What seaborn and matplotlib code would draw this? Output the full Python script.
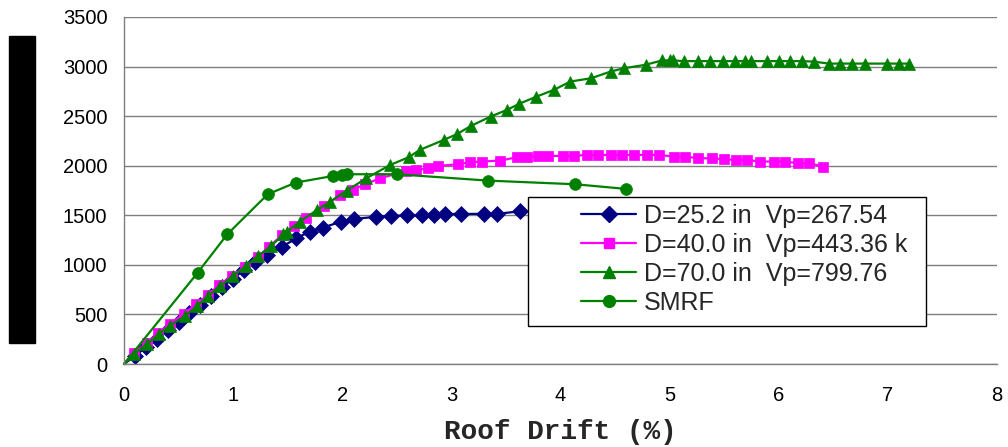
import matplotlib
matplotlib.use("Agg")
import matplotlib.pyplot as plt
import seaborn as sns
from matplotlib.lines import Line2D
from matplotlib.patches import Rectangle

# roof drift (%) vs base shear
d25_x = [0.0, 0.10, 0.20, 0.30, 0.40, 0.50, 0.60, 0.70, 0.80, 0.90, 1.00, 1.10, 1.20, 1.31,
         1.45, 1.58, 1.70, 1.82, 1.99, 2.11, 2.31, 2.45, 2.59, 2.73, 2.84, 2.94, 3.09, 3.30,
         3.42, 3.63]
d25_y = [0, 80, 170, 255, 340, 425, 515, 600, 690, 780, 860, 950, 1030, 1100,
         1184, 1268, 1335, 1375, 1436, 1463, 1485, 1493, 1500, 1503, 1505, 1513, 1513, 1515,
         1515, 1540]

d40_x = [0.0, 0.09, 0.21, 0.31, 0.42, 0.55, 0.66, 0.77, 0.87, 0.99, 1.11, 1.23, 1.33, 1.45,
         1.56, 1.67, 1.83, 1.98, 2.10, 2.21, 2.35, 2.58, 2.68, 2.79, 2.88, 3.06, 3.17, 3.28,
         3.45, 3.60, 3.69, 3.79, 3.89, 4.02, 4.12, 4.24, 4.34, 4.46, 4.56, 4.67, 4.79, 4.90,
         5.04, 5.14, 5.26, 5.39, 5.50, 5.61, 5.71, 5.83, 5.96, 6.06, 6.18, 6.28, 6.41]
d40_y = [0, 114, 209, 310, 404, 505, 605, 696, 797, 888, 982, 1083, 1184, 1302,
         1390, 1470, 1594, 1700, 1756, 1816, 1873, 1947, 1957, 1974, 1998, 2015, 2035, 2042,
         2052, 2085, 2085, 2099, 2099, 2099, 2099, 2109, 2109, 2109, 2109, 2109, 2109, 2109,
         2092, 2092, 2075, 2075, 2065, 2058, 2058, 2042, 2042, 2042, 2025, 2025, 1991]

d70_x = [0.0, 0.09, 0.21, 0.32, 0.42, 0.56, 0.67, 0.77, 0.88, 1.00, 1.12, 1.23, 1.35, 1.46,
         1.49, 1.61, 1.77, 1.89, 2.04, 2.22, 2.44, 2.61, 2.71, 2.93, 3.05, 3.18, 3.36, 3.51,
         3.62, 3.78, 3.94, 4.09, 4.28, 4.46, 4.58, 4.78, 4.93, 5.00, 5.03, 5.13, 5.26, 5.37,
         5.49, 5.60, 5.69, 5.75, 5.89, 6.00, 6.10, 6.21, 6.32, 6.46, 6.56, 6.67, 6.79, 6.99,
         7.10, 7.19]
d70_y = [0, 98, 202, 303, 387, 484, 585, 686, 787, 888, 989, 1090, 1191, 1308,
         1330, 1436, 1554, 1638, 1749, 1873, 2008, 2086, 2159, 2260, 2318, 2402, 2496, 2563,
         2624, 2697, 2765, 2849, 2882, 2950, 2983, 3018, 3062, 3062, 3062, 3055, 3055, 3055,
         3055, 3055, 3055, 3055, 3055, 3055, 3055, 3055, 3050, 3030, 3030, 3030, 3030, 3030,
         3030, 3030]

smrf_x = [0.0, 0.675, 0.947, 1.317, 1.574, 1.918, 1.995, 2.04, 2.50, 3.333, 4.134, 4.60]
smrf_y = [0, 921, 1309, 1712, 1830, 1897, 1910, 1914, 1914, 1850, 1813, 1766]

labels = ["D=25.2 in  Vp=267.54", "D=40.0 in  Vp=443.36 k",
          "D=70.0 in  Vp=799.76", "SMRF"]

sns.set_style("white")
plt.rcParams["font.family"] = ["Liberation Sans", "DejaVu Sans"]

fig = plt.figure(figsize=(10.08, 4.47), dpi=100)
ax = fig.add_axes([124 / 1008, 1 - 364 / 447, 873 / 1008, 347 / 447])

series = [
    (d25_x, d25_y, "#000080", "D", 8),
    (d40_x, d40_y, "#ff00ff", "s", 7.5),
    (d70_x, d70_y, "#008000", "^", 9),
    (smrf_x, smrf_y, "#008000", "o", 8.5),
]

handles = []
for (xs, ys, col, mk, ms), lab in zip(series, labels):
    # first point is the origin, drawn without a marker
    sns.lineplot(x=xs, y=ys, ax=ax, color=col, marker=mk, markersize=ms,
                 markeredgecolor=col, markeredgewidth=0.5, linewidth=1.6,
                 sort=False, estimator=None, markevery=slice(1, None), clip_on=False)
    handles.append(Line2D([], [], color=col, marker=mk, markersize=ms,
                          markeredgecolor=col, linewidth=1.6))

ax.set_xlim(0, 8)
ax.set_ylim(0, 3500)
ax.set_xticks(range(0, 9))
ax.set_yticks(range(0, 3501, 500))
ax.yaxis.grid(True, color="#7f7f7f", linewidth=1.0)
ax.set_axisbelow(True)
for s in ["top", "right"]:
    ax.spines[s].set_visible(False)
for s in ["left", "bottom"]:
    ax.spines[s].set_color("#7f7f7f")
    ax.spines[s].set_linewidth(1.0)
ax.tick_params(axis="both", direction="out", length=6, width=1.0, color="#7f7f7f",
               labelsize=14.5, labelcolor="black")
ax.tick_params(axis="x", pad=10)
ax.tick_params(axis="y", pad=6)

ax.set_xlabel("Roof Drift (%)", family=["Liberation Mono", "DejaVu Sans Mono"],
              fontweight="bold", fontsize=20, labelpad=10)
ax.set_ylabel("")

# legend box (white, square corners) with the entries inset from its left edge
box = Rectangle((0.4628, 0.1095), 0.4559, 0.3718, transform=ax.transAxes,
                facecolor="white", edgecolor="black", linewidth=1.0, zorder=10)
ax.add_patch(box)
leg = ax.legend(handles, labels, loc="upper left", bbox_to_anchor=(0.518, 0.475),
                frameon=False, fontsize=18, handlelength=2.2,
                handletextpad=0.3, labelspacing=0.2, borderpad=0.2, borderaxespad=0)
leg.set_zorder(11)

# blacked-out y-axis title
fig.patches.append(Rectangle((9 / 1008, 1 - 343 / 447), 26 / 1008, 307 / 447,
                             transform=fig.transFigure, color="black", zorder=5))

fig.savefig("out.png", dpi=100)
